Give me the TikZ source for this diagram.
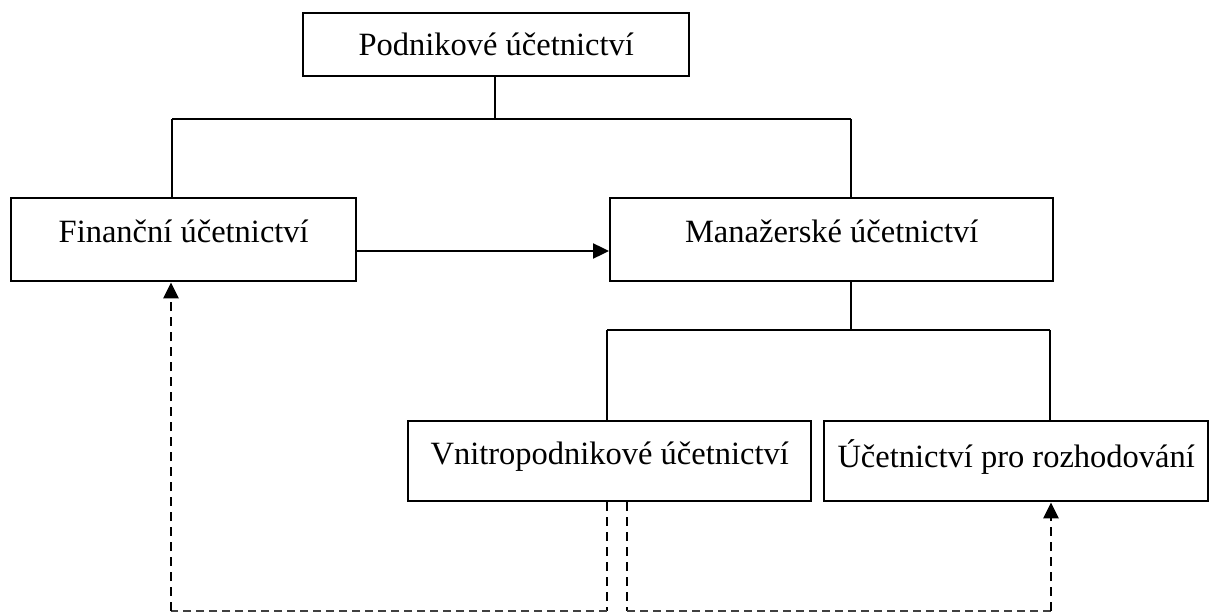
\documentclass[tikz,border=0pt]{standalone}
\usepackage{fontspec}
\setmainfont{Liberation Serif}
\usetikzlibrary{arrows.meta}
\begin{document}
\begin{tikzpicture}[x=1pt,y=-1pt,
  box/.style={draw,line width=2.4pt,rectangle,inner sep=0pt,anchor=north west,font=\fontsize{32.5}{38}\selectfont},
  conn/.style={line width=2.4pt},
  vdash/.style={line width=2.6pt,dash pattern=on 9pt off 6pt},
  hdash/.style={line width=1.3pt,draw=black!75,dash pattern=on 8pt off 5pt},
  tip/.style={-{Triangle[length=16pt,width=15pt]}}]
\useasboundingbox (0,0) rectangle (1209,612);
\node[box,minimum width=386pt,minimum height=63pt] (top) at (302,12) {Podnikové účetnictví};
\node[box,minimum width=345pt,minimum height=83pt] (fin) at (10,197) {\raisebox{18pt}{Finanční účetnictví}};
\node[box,minimum width=443pt,minimum height=83pt] (man) at (609,197) {\raisebox{18pt}{Manažerské účetnictví}};
\node[box,minimum width=403pt,minimum height=80pt] (vni) at (407,420) {\raisebox{16pt}{Vnitropodnikové účetnictví}};
\node[box,minimum width=384pt,minimum height=80pt] (roz) at (823,420) {\raisebox{16pt}{Účetnictví pro rozhodování}};
\coordinate (j1) at (495,119);
\coordinate (j2) at (851,330);
\coordinate (dl) at (607,611);
\coordinate (dr) at (627,611);
\draw[conn] (top.south -| j1) -- (j1);
\draw[conn] (172,119) -- (851,119);
\draw[conn] (172,119) -- (fin.north -| 172,0);
\draw[conn] (851,119) -- (man.north -| 851,0);
\draw[conn] (man.south -| j2) -- (j2);
\draw[conn] (607,330) -- (1050,330);
\draw[conn] (607,330) -- (vni.north -| 607,0);
\draw[conn] (1050,330) -- (roz.north -| 1050,0);
\draw[conn,tip] (fin.east |- 0,251) -- (man.west |- 0,251);
\draw[vdash] (vni.south -| dl) -- (dl);
\draw[vdash] (vni.south -| dr) -- (dr);
\draw[hdash] (dl) -- (171,611);
\draw[hdash] (dr) -- (1051,611);
\draw[vdash,tip] (171,611) -- (fin.south -| 171,0);
\draw[vdash,tip] (1051,611) -- (roz.south -| 1051,0);
\end{tikzpicture}
\end{document}
